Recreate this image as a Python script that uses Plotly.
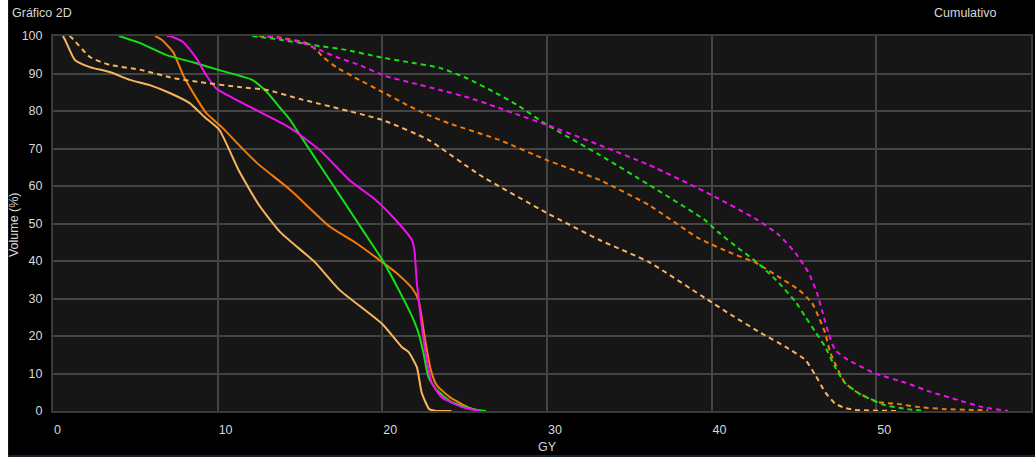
import plotly.graph_objects as go

# ---- data (dose Gy, volume %) ----
lo_solid_x = [0.6, 0.73, 1.33, 2.24, 3.45, 4.67, 5.88, 7.09, 8.3, 9.2, 10.1, 11.3, 12.5, 13.8, 15.9, 17.4, 20.0, 21.2, 21.6, 22.1, 22.4, 22.85, 23.2, 24.2]
lo_solid_y = [100, 99, 93.6, 91.7, 90.4, 88.3, 86.9, 84.8, 82.1, 78.4, 75, 64, 55, 47.7, 39.7, 32.3, 23.2, 17, 15.7, 11.7, 4.8, 0.5, 0.1, 0]

lo_dash_x = [1.0, 1.15, 2.24, 3.45, 5.3, 7.3, 8.9, 11.3, 13.0, 15.0, 20.0, 22.8, 25.9, 30.0, 33.2, 36.2, 39.4, 41.2, 43.0, 44.5, 45.7, 46.3, 46.9, 47.5, 48.1, 48.7, 51.3]
lo_dash_y = [100, 99.5, 94.4, 92.3, 91, 88.8, 87.7, 86.4, 85.6, 83.2, 77.6, 72.3, 63, 52.8, 45.6, 39.7, 30.7, 25.6, 20.8, 17.1, 13.6, 9.6, 5, 2, 0.8, 0.3, 0]

or_solid_x = [6.2, 6.6, 7.3, 7.9, 8.7, 9.3, 10.3, 11.3, 12.4, 14.4, 16.8, 18.4, 20.0, 21.0, 21.8, 22.2, 22.6, 22.95, 23.3, 24.1, 25.3, 25.9]
or_solid_y = [100, 99, 95.7, 89.6, 83.5, 79.5, 75.5, 70.9, 66.1, 59, 49.2, 44.8, 39.7, 36.3, 32.8, 29.6, 19, 10.9, 6.9, 3.7, 0.8, 0]

gr_solid_x = [4.0, 5.3, 6.9, 8.5, 10.1, 12.1, 13.0, 13.8, 14.4, 15.0, 16.8, 17.6, 18.8, 20.0, 21.0, 21.9, 22.2, 22.5, 22.8, 23.3, 24.2, 25.5, 26.3]
gr_solid_y = [100, 98.1, 94.9, 93, 90.9, 88.3, 85, 80.8, 77.6, 73.6, 61.6, 56.3, 48.3, 40.3, 32.3, 24.3, 20.8, 15.5, 9.1, 5.6, 2.4, 0.5, 0]

mg_solid_x = [6.9, 7.1, 7.9, 8.7, 9.3, 9.9, 10.9, 12.1, 13.3, 14.4, 16.2, 18.0, 19.6, 20.8, 21.8, 21.95, 22.1, 22.4, 22.7, 23.0, 23.6, 24.8, 25.9]
mg_solid_y = [100, 100, 98.4, 94.1, 89.6, 86.1, 83.5, 80.8, 78.1, 75.5, 69.6, 61.6, 56.3, 51, 45.6, 42.9, 34.1, 22.4, 13.6, 7.5, 3.7, 1.1, 0]

or_dash_x = [12.5, 13.9, 15.4, 16.0, 16.4, 17.2, 18.6, 20.0, 21.5, 22.8, 24.2, 27.1, 30.0, 33.2, 36.2, 39.2, 41.2, 42.7, 44.1, 45.3, 46.1, 46.5, 46.9, 47.2, 48.1, 48.9, 50.1, 51.3, 52.5, 54.2, 55.8, 56.8]
or_dash_y = [100, 99.5, 98.1, 96.3, 94.4, 91.7, 88.3, 85.1, 81.6, 78.9, 76.5, 72.3, 66.9, 61.6, 54.9, 46.1, 42.1, 39.5, 35.7, 32.3, 28.8, 25.1, 20.8, 15.7, 7.5, 4.8, 2.4, 1.9, 1.1, 0.5, 0.3, 0.2]

gr_dash_x = [12.1, 13.8, 15.8, 17.8, 19.8, 21.5, 23.5, 25.1, 26.9, 28.2, 30.0, 33.2, 36.2, 39.6, 40.4, 41.6, 42.8, 44.1, 45.1, 45.7, 46.3, 46.9, 47.5, 48.1, 49.1, 50.5, 51.9, 53.0]
gr_dash_y = [100, 99, 97.6, 96.3, 94.4, 93.1, 91.5, 88.8, 84.8, 81.6, 76.3, 68.3, 60.3, 50.9, 47.7, 43.5, 39.5, 34.1, 29.1, 25.1, 21.1, 17.1, 11.7, 7.5, 4.3, 1.6, 0.5, 0]

mg_dash_x = [13.0, 15.0, 16.2, 17.2, 18.6, 20.2, 21.8, 23.5, 25.3, 26.9, 28.3, 30.0, 33.2, 36.2, 40.0, 42.8, 44.1, 45.1, 45.9, 46.4, 46.7, 47.1, 47.5, 48.3, 49.9, 51.8, 53.3, 55.0, 56.4, 58.0]
mg_dash_y = [100, 98.4, 96.3, 94.4, 92.3, 89.3, 87.5, 85.6, 83.5, 81.1, 78.9, 76.3, 70.9, 65.6, 57.6, 50.9, 46.9, 42.1, 36.8, 31.5, 26.9, 20.8, 16.3, 13.6, 10.1, 7.5, 5.1, 2.9, 1.1, 0]

x_ticks = [0, 10, 20, 30, 40, 50]
y_ticks = [0, 10, 20, 30, 40, 50, 60, 70, 80, 90, 100]

C_LO = "#f8b55c"
C_OR = "#f57a0a"
C_GR = "#14e014"
C_MG = "#f010f0"

fig = go.Figure()

series = [
    (lo_solid_x, lo_solid_y, C_LO, "solid"),
    (or_solid_x, or_solid_y, C_OR, "solid"),
    (gr_solid_x, gr_solid_y, C_GR, "solid"),
    (mg_solid_x, mg_solid_y, C_MG, "solid"),
    (lo_dash_x, lo_dash_y, C_LO, "5px,4px"),
    (or_dash_x, or_dash_y, C_OR, "5px,4px"),
    (gr_dash_x, gr_dash_y, C_GR, "5px,4px"),
    (mg_dash_x, mg_dash_y, C_MG, "5px,4px"),
]
for xs, ys, col, dash in series:
    fig.add_trace(go.Scatter(x=xs, y=ys, mode="lines",
                             line=dict(color=col, width=2, dash=dash,
                                       shape="spline", smoothing=0.5),
                             showlegend=False, hoverinfo="x+y"))

font_col = "#d8d8d8"
FS = 12.5
fig.update_layout(
    width=1035, height=457,
    margin=dict(l=53, r=2, t=36, b=46),
    paper_bgcolor="#000000",
    plot_bgcolor="#161616",
    font=dict(family="Liberation Sans, Arial, sans-serif", size=FS, color=font_col),
    xaxis=dict(range=[0, 59.4], tickvals=x_ticks, ticktext=[str(v) for v in x_ticks],
               showgrid=True, gridcolor="#444444", gridwidth=1.5,
               zeroline=False, showline=True, linecolor="#3a3a3a", linewidth=2, mirror=True,
               ticks="", ticklabelposition="outside right", ticklabelstandoff=6,
               tickfont=dict(size=FS, color=font_col)),
    yaxis=dict(range=[0, 100], tickvals=y_ticks, ticktext=[str(v) for v in y_ticks],
               showgrid=True, gridcolor="#444444", gridwidth=1.5,
               zeroline=False, showline=True, linecolor="#3a3a3a", linewidth=2, mirror=True,
               ticks="", ticklabelstandoff=6,
               tickfont=dict(size=FS, color=font_col)),
    annotations=[
        dict(text="Gráfico 2D", xref="paper", yref="paper", x=(10 - 53) / 980, y=(411 - 13) / 375,
             xanchor="left", yanchor="middle", showarrow=False, font=dict(size=FS, color=font_col)),
        dict(text="Cumulativo", xref="paper", yref="paper", x=(1001 - 53) / 980, y=(411 - 13) / 375,
             xanchor="right", yanchor="middle", showarrow=False, font=dict(size=FS, color=font_col)),
        dict(text="GY", xref="paper", yref="paper", x=(549 - 53) / 980, y=(411 - 447) / 375,
             xanchor="center", yanchor="middle", showarrow=False, font=dict(size=FS, color=font_col)),
        dict(text="Volume (%)", xref="paper", yref="paper", x=(14 - 53) / 980, y=(411 - 225) / 375,
             xanchor="center", yanchor="middle", textangle=-90, showarrow=False,
             font=dict(size=FS, color=font_col)),
    ],
    shapes=[
        dict(type="rect", xref="paper", yref="paper", x0=-0.06, x1=(8 - 53) / 980,
             y0=-0.2, y1=1.2, fillcolor="#ffffff", line=dict(width=0), layer="above"),
        dict(type="rect", xref="paper", yref="paper", x0=(8 - 53) / 980, x1=1.01,
             y0=(411 - 457.5) / 375, y1=(411 - 455) / 375, fillcolor="#1c2230",
             line=dict(width=0), layer="above"),
    ],
)

fig.write_html("out.html", config={"displayModeBar": False},
               post_script="document.body.style.margin='0';document.body.style.overflow='hidden';")
